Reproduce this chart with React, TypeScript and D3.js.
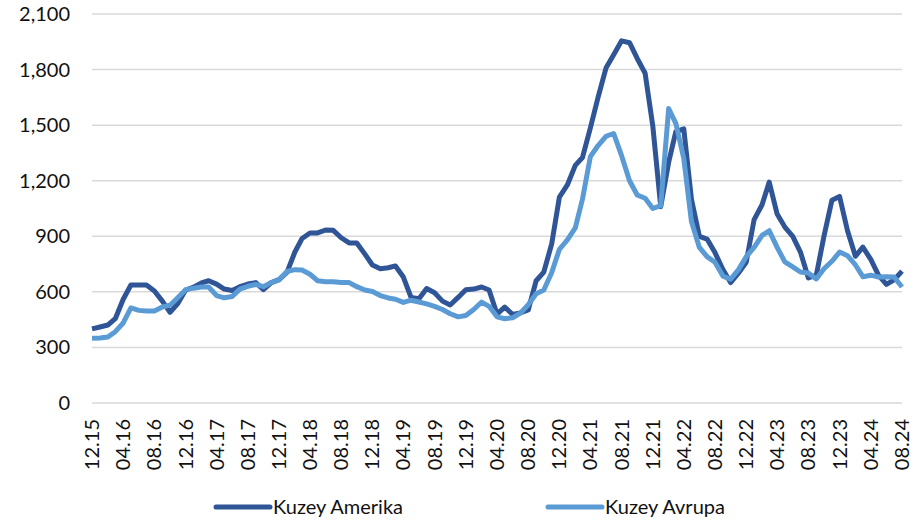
import { useMemo } from "react";
import * as d3 from "d3";

// monthly readings, Dec 2015 .. Aug 2024
const START_MONTH = "2015-12";

const northAmerica = [
  400, 410, 421, 455, 560, 637, 637, 637, 605, 550, 490, 538,
  610, 625, 648, 660, 642, 615, 607, 628, 642, 650, 612, 650,
  666, 705, 815, 888, 918, 918, 934, 932, 892, 864, 864, 805,
  745, 725, 730, 740, 680, 570, 563, 618, 595, 550, 529, 570,
  612, 615, 626, 610, 480, 518, 478, 486, 502, 660, 707, 860,
  1112, 1177, 1283, 1325, 1485, 1650, 1808, 1880, 1955, 1945, 1860, 1780,
  1495, 1060, 1300, 1465, 1480, 1100, 900, 885, 812, 720, 650, 702,
  760, 990, 1070, 1193, 1020, 950, 900, 815, 675, 690, 900, 1095,
  1115, 930, 792, 842, 775, 690, 640, 665, 712,
];

const northEurope = [
  350, 351, 356, 385, 432, 513, 500, 497, 497, 518, 528, 570,
  612, 620, 626, 626, 580, 568, 575, 615, 630, 640, 628, 650,
  664, 710, 720, 718, 695, 660, 655, 655, 650, 650, 628, 610,
  602, 580, 567, 560, 543, 555, 545, 535, 522, 505, 482, 465,
  472, 505, 545, 522, 465, 455, 460, 485, 530, 590, 610, 705,
  830, 880, 945, 1100, 1330, 1390, 1440, 1455, 1335, 1200, 1123, 1105,
  1050, 1065, 1590, 1510, 1320, 980, 840, 790, 760, 685, 668, 720,
  790, 840, 905, 930, 840, 762, 735, 707, 702, 670, 725, 765,
  815, 795, 745, 682, 690, 680, 682, 680, 626,
];

const tickLabels = [
  "12.15", "04.16", "08.16", "12.16", "04.17", "08.17", "12.17",
  "04.18", "08.18", "12.18", "04.19", "08.19", "12.19", "04.20",
  "08.20", "12.20", "04.21", "08.21", "12.21", "04.22", "08.22",
  "12.22", "04.23", "08.23", "12.23", "04.24", "08.24",
];

const yTicks = [0, 300, 600, 900, 1200, 1500, 1800, 2100];

const seriesNames = ["Kuzey Amerika", "Kuzey Avrupa"];
const seriesColors = ["#2f5597", "#5b9bd5"];

const WIDTH = 922;
const HEIGHT = 522;
const FONT = "Lato, 'Open Sans', sans-serif";

export default function App() {
  const start = d3.timeParse("%Y-%m")(START_MONTH) as Date;
  const dates = northAmerica.map((_, i) => d3.timeMonth.offset(start, i));

  const xScale = useMemo(
    () => d3.scaleTime().domain([dates[0], dates[dates.length - 1]]).range([92, 902]),
    []
  );
  const yScale = useMemo(() => d3.scaleLinear().domain([0, 2100]).range([403, 14]), []);

  const line = d3
    .line<number>()
    .x((_, i) => xScale(dates[i]))
    .y((d) => yScale(d))
    .curve(d3.curveLinear);

  const tickDates = tickLabels.map((_, i) => d3.timeMonth.offset(start, i * 4));

  const legendItems = [
    { x: 216, name: seriesNames[0], color: seriesColors[0] },
    { x: 548, name: seriesNames[1], color: seriesColors[1] },
  ];

  return (
    <svg
      width={WIDTH}
      height={HEIGHT}
      style={{ position: "absolute", left: 0, top: 0, background: "#fff" }}
    >
      {yTicks.map((t) => (
        <g key={t}>
          <line
            x1={92}
            x2={902}
            y1={yScale(t)}
            y2={yScale(t)}
            stroke="#d9d9d9"
            strokeWidth={1.5}
          />
          <text
            x={70}
            y={yScale(t)}
            dy="0.35em"
            textAnchor="end"
            fontFamily={FONT}
            fontSize={20}
            fill="#111"
          >
            {d3.format(",")(t)}
          </text>
        </g>
      ))}

      {tickDates.map((d, i) => (
        <text
          key={tickLabels[i]}
          transform={`translate(${xScale(d)},419) rotate(-90)`}
          dy="0.35em"
          textAnchor="end"
          fontFamily={FONT}
          fontSize={20}
          fill="#111"
        >
          {tickLabels[i]}
        </text>
      ))}

      <path
        d={line(northAmerica) ?? ""}
        fill="none"
        stroke={seriesColors[0]}
        strokeWidth={5}
        strokeLinejoin="round"
      />
      <path
        d={line(northEurope) ?? ""}
        fill="none"
        stroke={seriesColors[1]}
        strokeWidth={5}
        strokeLinejoin="round"
      />

      {legendItems.map((it) => (
        <g key={it.name}>
          <line
            x1={it.x}
            x2={it.x + 54}
            y1={507}
            y2={507}
            stroke={it.color}
            strokeWidth={5}
            strokeLinecap="round"
          />
          <text x={it.x + 57} y={514} fontFamily={FONT} fontSize={20} fill="#111">
            {it.name}
          </text>
        </g>
      ))}
    </svg>
  );
}
